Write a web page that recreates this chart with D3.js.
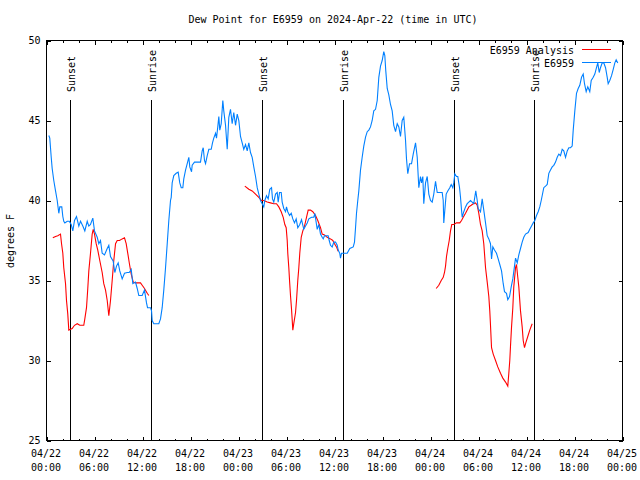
<!DOCTYPE html>
<html><head><meta charset="utf-8">
<script src="https://cdn.jsdelivr.net/npm/d3@7"></script>
<style>
body{margin:0;background:#fff}
svg{display:block;background:#fff}
text{font-family:"DejaVu Sans Mono",monospace;font-size:10px;fill:#000}
</style>
</head><body>
<svg id="chart" width="640" height="480"></svg>
<script>
// ---------- DATA (hours since 2024-04-22 00:00 UTC) ----------
const chartTitle = "Dew Point for E6959 on 2024-Apr-22 (time in UTC)";
const yLabel = "degrees F";
const yTicks = [25, 30, 35, 40, 45, 50];
const xMajorHours = [0, 6, 12, 18, 24, 30, 36, 42, 48, 54, 60, 66, 72];
const xMinorHours = d3.range(0, 73, 2);
const sunsetHours = [3.0, 27.0, 51.04];
const sunriseHours = [13.13, 37.16, 61.04];
const sunLineTopValue = 46.3;

const obsHours = [0.29,0.41,0.59,0.71,0.91,1.13,1.34,1.54,1.66,1.91,2.04,2.16,2.29,2.59,2.84,3.09,3.29,3.5,3.75,4.04,4.25,4.54,4.79,5.09,5.29,5.5,5.79,6.0,6.34,6.54,6.75,6.96,7.25,7.59,7.79,8.0,8.34,8.54,8.75,8.96,9.16,9.46,9.75,10.09,10.34,10.59,10.79,11.13,11.34,11.54,11.96,12.25,12.5,12.63,13.0,13.13,13.21,13.41,13.84,14.04,14.25,14.46,14.66,14.88,15.09,15.29,15.5,15.59,15.71,15.91,16.21,16.46,16.66,16.84,17.04,17.16,17.38,17.59,17.79,17.91,18.13,18.21,18.5,18.84,19.25,19.46,19.59,19.75,19.88,20.09,20.29,20.59,20.75,20.91,21.13,21.25,21.41,21.54,21.66,21.84,22.04,22.16,22.38,22.59,22.79,23.0,23.21,23.41,23.63,23.84,24.04,24.25,24.46,24.66,24.88,25.09,25.29,25.5,25.71,25.91,26.13,26.34,26.54,26.75,26.96,27.16,27.29,27.5,27.71,27.91,28.13,28.25,28.41,28.63,28.84,28.96,29.13,29.34,29.46,29.66,29.88,30.0,30.16,30.38,30.59,30.79,31.0,31.21,31.41,31.66,31.88,32.16,32.38,32.59,32.79,33.13,33.41,33.54,33.75,33.84,34.04,34.25,34.46,34.59,34.75,35.21,35.34,35.5,35.71,35.91,36.13,36.34,36.46,36.66,36.75,36.88,37.59,37.91,38.34,38.5,38.63,38.75,38.91,39.04,39.25,39.46,39.66,39.88,40.09,40.29,40.5,40.71,40.91,41.13,41.34,41.54,41.75,41.96,42.16,42.29,42.41,42.59,42.79,43.0,43.21,43.41,43.63,43.84,44.04,44.25,44.46,44.66,44.88,45.0,45.16,45.38,45.63,45.84,46.13,46.34,46.54,46.75,46.88,47.04,47.16,47.38,47.59,47.79,48.0,48.21,48.41,48.63,48.84,49.46,49.59,49.66,49.79,49.96,50.16,50.41,50.59,50.79,50.91,51.04,51.25,51.41,51.63,51.75,51.88,51.96,52.16,52.38,52.59,52.79,53.0,53.21,53.41,53.66,53.84,53.96,54.25,54.46,54.66,54.88,55.09,55.29,55.5,55.63,55.79,56.0,56.25,56.46,56.66,56.88,57.09,57.25,57.5,57.66,57.88,58.09,58.29,58.5,58.63,58.84,59.04,59.25,59.46,59.66,59.88,60.21,60.41,60.63,60.84,61.04,61.25,61.46,61.66,61.84,62.16,62.38,62.59,62.79,63.0,63.21,63.41,63.63,63.84,64.04,64.25,64.46,64.66,64.88,65.09,65.29,65.5,65.71,65.84,66.04,66.25,66.46,66.66,66.88,67.09,67.25,67.46,67.66,67.91,68.09,68.34,68.54,68.75,68.91,69.09,69.25,69.46,69.66,69.88,70.09,70.21,70.41,70.63,70.84,71.04,71.21,71.41];
const obsValues = [44.06,43.9,42.7,42.0,41.25,40.6,40.0,39.2,39.6,39.6,39.0,38.7,38.6,38.7,38.7,38.5,38.1,38.75,39.0,38.4,38.7,38.4,38.1,38.7,38.4,38.5,38.9,38.1,37.7,37.3,37.5,36.7,36.6,37.0,37.2,36.5,36.2,35.5,35.9,36.1,35.6,35.1,35.45,35.5,35.5,35.7,34.8,34.9,34.5,34.06,34.06,34.4,33.6,33.3,33.3,33.1,32.5,32.3,32.3,32.3,32.6,33.3,34.4,35.8,37.3,38.75,40.0,40.2,41.1,41.56,41.7,41.77,41.1,40.8,40.8,41.35,41.9,42.3,42.7,42.1,41.8,42.2,42.4,42.4,42.4,43.1,43.3,42.5,42.3,42.8,43.2,43.2,43.6,43.9,44.2,43.9,44.6,45.25,44.4,44.8,46.25,45.6,44.7,43.2,45.2,45.7,44.8,45.5,44.7,45.4,45.0,44.0,43.6,43.2,43.5,43.1,43.6,43.0,42.7,42.1,41.5,40.8,40.4,40.0,39.8,39.6,40.0,40.3,40.1,40.7,40.8,40.1,39.9,40.4,40.5,39.9,40.5,40.5,39.9,39.5,39.3,39.6,39.3,39.06,39.2,38.85,38.6,38.85,38.3,38.5,38.8,38.2,38.4,38.6,38.85,38.95,38.95,39.2,38.5,38.2,38.5,37.9,37.7,37.6,37.8,37.8,37.5,37.2,37.1,37.4,37.4,37.2,36.9,36.7,36.4,36.7,36.7,37.0,37.1,37.4,38.3,39.2,40.0,40.6,41.9,42.7,43.4,43.96,44.3,44.4,44.6,45.0,45.6,45.7,46.25,47.7,48.4,48.75,49.3,49.06,48.1,47.0,46.6,46.0,45.6,44.7,44.3,44.8,44.6,44.0,45.0,45.2,43.75,42.6,41.67,42.3,42.3,42.9,43.6,42.7,40.8,41.5,41.1,41.5,39.8,41.1,41.5,40.4,40.0,39.9,40.4,41.2,40.5,40.5,40.0,38.6,39.4,40.4,40.6,40.8,41.0,40.8,41.1,41.67,41.5,41.5,40.8,40.2,39.4,38.95,39.3,39.6,39.8,39.9,40.0,39.9,39.8,40.6,40.0,39.5,39.3,40.1,39.4,38.6,37.8,37.6,37.3,36.35,37.1,36.9,36.7,36.35,36.0,35.6,34.8,34.3,34.2,33.8,34.0,34.6,35.1,35.9,36.4,36.1,36.6,37.0,37.4,37.7,37.9,38.0,38.2,38.4,38.6,38.75,39.06,39.3,39.6,40.0,40.8,40.9,41.0,41.7,41.9,42.1,42.2,42.4,42.7,42.9,42.8,43.2,43.1,42.7,43.1,43.3,43.3,43.4,44.4,45.6,46.7,47.0,47.2,47.7,47.9,47.3,46.8,47.1,46.8,47.5,47.7,47.9,48.3,48.6,48.0,48.3,48.6,48.6,48.3,47.7,47.3,47.5,47.8,48.2,48.6,48.8,48.6];

// Analysis series: null marks a gap between segments
const anaHours = [0.79,1.13,1.41,1.75,1.88,2.04,2.16,2.38,2.5,2.66,2.79,3.0,3.21,3.5,3.84,4.16,4.66,4.79,5.0,5.16,5.29,5.5,5.71,5.84,6.0,6.21,6.41,6.66,6.96,7.16,7.38,7.59,7.79,8.0,8.21,8.41,8.63,8.84,9.13,9.46,9.75,9.96,10.16,10.38,10.59,10.84,11.13,11.75,11.96,12.25,12.59,12.79,
  18.0,
  24.79,25.29,25.71,26.13,26.54,26.88,27.16,27.59,28.0,28.41,28.75,29.04,29.34,29.59,29.79,29.96,30.09,30.16,30.29,30.38,30.5,30.63,30.79,30.91,31.13,31.25,31.41,31.54,31.66,31.84,32.04,32.25,32.5,32.71,33.0,33.29,33.63,33.91,34.25,34.46,34.75,35.09,35.5,35.79,36.0,36.25,36.46,
  42.0,
  48.71,49.04,49.34,49.59,49.75,49.88,50.0,50.16,50.34,50.5,50.66,50.91,51.25,51.66,51.88,52.09,52.38,52.59,52.79,53.09,53.34,53.63,53.84,54.04,54.25,54.46,54.66,54.88,55.09,55.29,55.41,55.5,55.63,55.84,56.13,56.41,56.75,57.04,57.38,57.66,57.79,57.91,58.0,58.13,58.29,58.41,58.63,58.75,58.91,59.04,59.25,59.46,59.59,59.75,59.91,60.16,60.41,60.71];
const anaValues = [37.67,37.75,37.8,37.9,37.3,36.7,35.8,34.8,33.75,32.9,31.9,31.95,32.0,32.2,32.3,32.2,32.2,32.6,33.3,34.5,35.6,36.7,37.9,38.2,37.9,37.3,36.9,36.25,35.5,34.8,34.4,33.75,32.8,33.75,35.0,36.25,37.3,37.5,37.5,37.6,37.67,37.3,36.7,36.0,35.4,34.9,34.85,34.85,34.7,34.5,34.2,34.06,
  null,
  40.9,40.7,40.6,40.4,40.2,40.0,40.0,39.9,39.85,39.8,39.8,39.6,39.3,38.95,38.5,38.3,37.5,36.7,35.8,35.0,34.06,33.2,31.9,32.3,33.0,33.75,35.0,35.8,36.7,37.7,38.1,38.4,38.95,39.4,39.4,39.3,39.06,38.75,38.3,37.9,37.85,37.7,37.6,37.5,37.3,37.1,36.83,
  null,
  34.5,34.7,35.0,35.2,35.5,35.9,36.5,37.0,37.5,38.1,38.5,38.5,38.6,38.6,38.75,38.95,39.2,39.4,39.6,39.7,39.8,39.85,39.7,39.2,38.5,38.1,37.3,35.8,34.9,34.0,33.1,32.2,30.8,30.4,30.0,29.6,29.2,28.9,28.65,28.4,29.2,30.0,30.9,32.1,33.3,34.6,35.8,36.0,35.2,34.6,33.1,32.1,31.25,30.8,31.1,31.5,31.9,32.3];

const seriesNames = ["E6959 Analysis", "E6959"];
const seriesColors = ["#ff0000", "#0080ff"];

// ---------- CHART ----------
const startMs = Date.UTC(2024, 3, 22);
const toDate = h => new Date(startMs + h * 3600e3);
const svg = d3.select("#chart");
const mLeft = 46, mRight = 622, mTop = 40, mBottom = 440;

const x = d3.scaleUtc().domain([toDate(0), toDate(72)]).range([mLeft, mRight]);
const y = d3.scaleLinear().domain([25, 50]).range([mBottom, mTop]);

const g = svg.append("g").attr("transform", "translate(0.5,0.5)");

// title
svg.append("text").attr("x", 333).attr("y", 23).attr("text-anchor", "middle").text(chartTitle);
// y label
svg.append("text").attr("transform", "translate(14,241) rotate(-90)")
  .attr("text-anchor", "middle").text(yLabel);

function styleAxis(sel) {
  sel.select(".domain").remove();
  sel.selectAll("line").attr("stroke", "#000").attr("shape-rendering", "crispEdges");
  sel.selectAll("text").attr("font-family", '"DejaVu Sans Mono",monospace').attr("font-size", 10).attr("fill", "#000");
}

// y axes
g.append("g").attr("transform", `translate(${mLeft},0)`)
  .call(d3.axisLeft(y).tickValues(yTicks).tickSize(-4).tickPadding(6).tickFormat(d3.format("d")))
  .call(styleAxis);
g.append("g").attr("transform", `translate(${mRight},0)`)
  .call(d3.axisRight(y).tickValues(yTicks).tickSize(-4).tickFormat(""))
  .call(styleAxis);

// x axes: minor and major ticks on bottom and top
const minorDates = xMinorHours.map(toDate);
const majorDates = xMajorHours.map(toDate);
g.append("g").attr("transform", `translate(0,${mBottom})`)
  .call(d3.axisBottom(x).tickValues(minorDates).tickSize(-2).tickFormat("")).call(styleAxis);
g.append("g").attr("transform", `translate(0,${mBottom})`)
  .call(d3.axisBottom(x).tickValues(majorDates).tickSize(-4).tickFormat("")).call(styleAxis);
g.append("g").attr("transform", `translate(0,${mTop})`)
  .call(d3.axisTop(x).tickValues(minorDates).tickSize(-2).tickFormat("")).call(styleAxis);
g.append("g").attr("transform", `translate(0,${mTop})`)
  .call(d3.axisTop(x).tickValues(majorDates).tickSize(-4).tickFormat("")).call(styleAxis);

// x tick labels (two lines)
const fmtDay = d3.utcFormat("%m/%d"), fmtTime = d3.utcFormat("%H:%M");
const xl = svg.append("g").selectAll("text").data(majorDates).join("text")
  .attr("text-anchor", "middle")
  .attr("transform", d => `translate(${x(d)},0)`);
xl.append("tspan").attr("x", 0).attr("y", 457).text(d => fmtDay(d));
xl.append("tspan").attr("x", 0).attr("y", 471).text(d => fmtTime(d));

// frame
g.append("rect").attr("x", mLeft).attr("y", mTop).attr("width", mRight - mLeft).attr("height", mBottom - mTop)
  .attr("fill", "none").attr("stroke", "#000").attr("shape-rendering", "crispEdges");

// sun lines
const sunEvents = sunsetHours.map(h => ({h, label: "Sunset"}))
  .concat(sunriseHours.map(h => ({h, label: "Sunrise"})));
g.selectAll("line.sun").data(sunEvents).join("line").attr("class", "sun")
  .attr("x1", d => Math.round(x(toDate(d.h)))).attr("x2", d => Math.round(x(toDate(d.h))))
  .attr("y1", Math.round(y(sunLineTopValue))).attr("y2", mBottom)
  .attr("stroke", "#000").attr("shape-rendering", "crispEdges");
svg.selectAll("text.sun").data(sunEvents).join("text").attr("class", "sun")
  .attr("transform", d => `translate(${Math.round(x(toDate(d.h))) + 4.5},${Math.round(y(sunLineTopValue)) - 7}) rotate(-90)`)
  .attr("text-anchor", "start").text(d => d.label);

// series lines
const line = d3.line().defined(d => d[1] != null)
  .x(d => x(toDate(d[0]))).y(d => y(d[1]));
const anaData = anaHours.map((h, i) => [h, anaValues[i]]);
const obsData = obsHours.map((h, i) => [h, obsValues[i]]);
g.append("path").datum(anaData).attr("d", line).attr("fill", "none")
  .attr("stroke", seriesColors[0]).attr("stroke-width", 1.1);
g.append("path").datum(obsData).attr("d", line).attr("fill", "none")
  .attr("stroke", seriesColors[1]).attr("stroke-width", 1.1);

// legend
const legY = [50, 63];
seriesNames.forEach((name, i) => {
  svg.append("text").attr("x", 574).attr("y", legY[i] + 3.5).attr("text-anchor", "end").text(name);
  g.append("line").attr("x1", 581).attr("x2", 610).attr("y1", legY[i] - 1).attr("y2", legY[i] - 1)
    .attr("stroke", seriesColors[i]).attr("stroke-width", 1).attr("shape-rendering", "crispEdges");
});
</script>
</body></html>
